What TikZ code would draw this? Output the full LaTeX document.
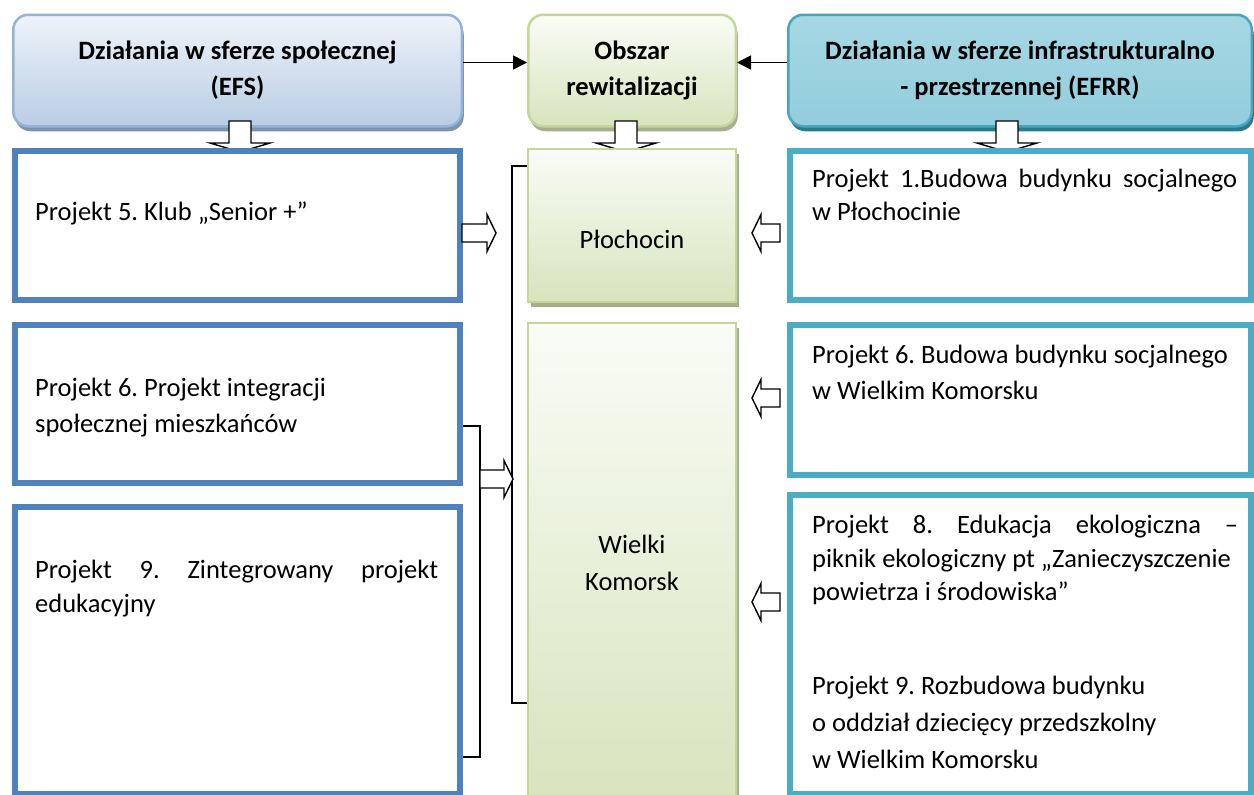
\documentclass[tikz,border=0pt]{standalone}
\usepackage{fontspec}
\setmainfont{Carlito}
\usetikzlibrary{shadows,arrows.meta}
\definecolor{lblue}{HTML}{4F81BD}
\definecolor{teal1}{HTML}{4BACC6}
\definecolor{hlborder}{HTML}{95B3D7}
\definecolor{hltop}{HTML}{EEF3F9}
\definecolor{hlbot}{HTML}{B9CDE5}
\definecolor{hlshadow}{HTML}{7E93AE}
\definecolor{gborder}{HTML}{C3D69B}
\definecolor{gtop}{HTML}{FAFCF6}
\definecolor{gbot}{HTML}{D7E4BD}
\definecolor{gshadow}{HTML}{A5AF8B}
\definecolor{ttop}{HTML}{A7D7E4}
\definecolor{tmid}{HTML}{4BACC6}
\definecolor{tbot}{HTML}{92CDDC}
\definecolor{tborder}{HTML}{46A5BF}
\definecolor{tshadow}{HTML}{2C7A8E}
\newcommand\txtfont{\fontsize{26.5}{36}\selectfont}
\newcommand\hdrfont{\fontsize{26.5}{36}\selectfont\bfseries}
\frenchspacing
\begin{document}
\begin{tikzpicture}[x=1pt,y=-1pt,
  hdr/.style={rounded corners=15pt, line width=2.5pt, inner sep=0pt, align=center, font=\hdrfont, minimum height=111.5pt},
  leftbox/.style={draw=lblue, line width=6pt, fill=white, minimum width=445pt, inner sep=0pt},
  rightbox/.style={draw=teal1, line width=6pt, fill=white, minimum width=461pt, inner sep=0pt},
  midbox/.style={draw=gborder, line width=2pt, top color=gtop, bottom color=gbot, minimum width=208pt, inner sep=0pt,
     drop shadow={shadow xshift=3pt, shadow yshift=-5pt, fill=gshadow, opacity=1}},
  txt/.style={font=\txtfont, anchor=base west, inner sep=0pt},
  ctxt/.style={font=\txtfont, anchor=base, inner sep=0pt},
  conn/.style={line width=1.5pt, draw=black},
  tri/.style={conn, -{Triangle[length=14pt,width=14pt]}},
  pics/blkarrow/.style n args={4}{code={
    \draw[line width=1.4pt, fill=white, line join=miter, miter limit=10]
      (0,-#2/2) -- (#1-#4,-#2/2) -- (#1-#4,-#3/2) -- (#1,0) -- (#1-#4,#3/2) -- (#1-#4,#2/2) -- (0,#2/2) -- cycle;
  }}
]
\useasboundingbox (0,0) rectangle (1254,795);
\fill[white] (0,0) rectangle (1254,795);

% headers
\node[hdr, draw=hlborder, top color=hltop, bottom color=hlbot, minimum width=448.5pt,
  drop shadow={shadow xshift=2pt, shadow yshift=-5pt, fill=hlshadow, opacity=1}] (HL) at (237.5,70.5)
  {Działania w sferze społecznej\\(EFS)};
\node[hdr, draw=gborder, top color=gtop, bottom color=gbot, minimum width=207.5pt,
  drop shadow={shadow xshift=2pt, shadow yshift=-5pt, fill=gshadow, opacity=1}] (HM) at (632,70.5)
  {Obszar\\rewitalizacji};
\node[hdr, draw=tborder, top color=ttop, middle color=tmid, bottom color=tbot, minimum width=463.5pt,
  drop shadow={shadow xshift=2pt, shadow yshift=-5pt, fill=tshadow, opacity=1}] (HR) at (1020,70.5)
  {Działania w sferze infrastrukturalno\\- przestrzennej (EFRR)};

\draw[tri] ([yshift=8pt]HL.east) -- ([yshift=8pt]HM.west);
\draw[tri] ([yshift=8pt]HR.west) -- ([yshift=8pt]HM.east);

% down block arrows
\pic[rotate=-90] (DL) at (240,121) {blkarrow={31}{22}{60}{9}};
\pic[rotate=-90] (DM) at (626,121) {blkarrow={31}{22}{60}{9}};
\pic[rotate=-90] (DR) at (1007,121) {blkarrow={31}{22}{60}{9}};

% left boxes
\node[leftbox, minimum height=149pt] (L1) at (237.5,225.5) {};
\node[leftbox, minimum height=158pt] (L2) at (237.5,404) {};
\node[leftbox, minimum height=287pt] (L3) at (237.5,650.5) {};
% right boxes
\node[rightbox, minimum height=149pt] (R1) at (1020.5,225.5) {};
\node[rightbox, minimum height=150pt] (R2) at (1020.5,400) {};
\node[rightbox, minimum height=299pt] (R3) at (1020.5,644.5) {};
% middle boxes
\node[midbox, minimum height=153pt] (P) at (632,225.5) {};
\node[midbox, minimum height=477pt] (W) at (632,561.5) {};

% texts
\node[txt] (tL1) at (35,220) {Projekt 5. Klub „Senior +”};
\node[txt] (tL2a) at (35,396) {Projekt 6. Projekt integracji};
\node[txt] (tL2b) at (35,432) {społecznej mieszkańców};
\node[txt] (tL3a) at (35,578) {\makebox[403pt][s]{Projekt 9. Zintegrowany projekt}};
\node[txt] (tL3b) at (35,612) {edukacyjny};

\node[txt] (tR1a) at (812,187) {\makebox[425pt][s]{Projekt 1.Budowa budynku socjalnego}};
\node[txt] (tR1b) at (812,220) {w Płochocinie};
\node[txt] (tR2a) at (812,363) {Projekt 6. Budowa budynku socjalnego};
\node[txt] (tR2b) at (812,399) {w Wielkim Komorsku};
\node[txt] (tR3a) at (812,533) {\makebox[426pt][s]{Projekt 8. Edukacja ekologiczna –}};
\node[txt] (tR3b) at (812,567) {piknik ekologiczny pt „Zanieczyszczenie};
\node[txt] (tR3c) at (812,600) {powietrza i środowiska”};
\node[txt] (tR3d) at (812,694) {Projekt 9. Rozbudowa budynku};
\node[txt] (tR3e) at (812,731) {o oddział dziecięcy przedszkolny};
\node[txt] (tR3f) at (812,768) {w Wielkim Komorsku};

\node[ctxt] (tP) at (632,248) {Płochocin};
\node[ctxt] (tW1) at (632,553) {Wielki};
\node[ctxt] (tW2) at (632,590) {Komorsk};

% brackets
\coordinate (wb) at (527,703);
\coordinate (l3b) at (463,757);
\draw[conn] ([yshift=-18pt]P.north west) -- ++(-15,0) |- (wb);
\draw[conn] ([yshift=-22pt]L2.east) -- ++(17,0) |- (l3b);

% horizontal block arrows
\pic (AL1) at (462,233) {blkarrow={34}{18}{37}{9}};
\pic (AB) at (480,479) {blkarrow={33}{18}{37}{9}};
\pic[rotate=180] (AR1) at (780,233) {blkarrow={28}{18}{37}{9}};
\pic[rotate=180] (AR2) at (780,398) {blkarrow={28}{18}{37}{9}};
\pic[rotate=180] (AR3) at (780,602) {blkarrow={28}{18}{37}{9}};
\end{tikzpicture}
\end{document}
